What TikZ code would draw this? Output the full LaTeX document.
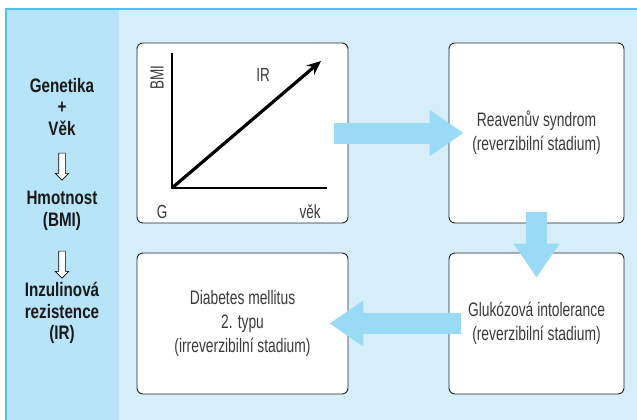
\documentclass[tikz,border=0pt]{standalone}
\usepackage{fontspec}
\setmainfont[FakeStretch=0.71]{Liberation Sans}
\newfontfamily\sidefont[FakeStretch=0.78]{Liberation Sans}
\usepackage{tikz}
\usetikzlibrary{arrows.meta,shapes.arrows}

\definecolor{sidefill}{HTML}{B8E4F8}
\definecolor{panelfill}{HTML}{D6EDFA}
\definecolor{framecyan}{HTML}{4FC3EF}
\definecolor{flowblue}{HTML}{99DAF5}
\definecolor{textgrey}{HTML}{3A3A3A}

\tikzset{
  stagebox/.style={draw=black!85, line width=0.9pt, rounded corners=6pt, fill=white,
    align=center, text=textgrey, font=\fontsize{19.5}{24}\selectfont, inner sep=0pt},
  sidetext/.style={align=center, font=\sidefont\bfseries\fontsize{19.5}{21.5}\selectfont, text=black!90},
  flow/.style={draw=flowblue, line width=21pt, -{Triangle[length=34pt,width=44pt]}},
  hollowdown/.style={single arrow, draw=black, fill=white, line width=0.6pt, rotate=-90,
    minimum height=27pt, single arrow head extend=3.5pt, inner sep=3pt},
  chartlabel/.style={text=textgrey, font=\fontsize{19}{21}\selectfont}
}

\begin{document}
\begin{tikzpicture}[x=1pt,y=-1pt]
  \useasboundingbox (0,0) rectangle (637,420);
  \fill[panelfill] (6,9) rectangle (637,420);
  \fill[sidefill] (6,9) rectangle (119,420);
  \draw[framecyan, line width=2pt] (6,420) -- (6,9) -- (637,9);

  \node[sidetext] (genetika) at (62,107) {Genetika\\+\\Věk};
  \node[hollowdown] (down1) at (62,165) {};
  \node[sidetext] (hmotnost) at (62,211) {Hmotnost\\(BMI)};
  \node[hollowdown] (down2) at (62,263) {};
  \node[sidetext] (inzulin) at (62,313) {Inzulinová\\rezistence\\(IR)};

  \node[stagebox, minimum width=211pt, minimum height=180pt] (chart) at (242.5,133) {};
  \node[stagebox, minimum width=175pt, minimum height=180pt] (reaven) at (536.5,133)
    {Reavenův syndrom\\(reverzibilní stadium)};
  \node[stagebox, minimum width=175pt, minimum height=141pt] (gluk) at (536.5,323.5)
    {Glukózová intolerance\\(reverzibilní stadium)};
  \node[stagebox, minimum width=211pt, minimum height=141pt] (diab) at (242.5,323.5)
    {Diabetes mellitus\\2. typu\\(irreverzibilní stadium)};

  \coordinate (origin) at (172,188);
  \coordinate (ytop) at (172,53);
  \coordinate (xend) at (327,188);
  \coordinate (irend) at (321,61);
  \draw[line width=1.2pt] (ytop) -- (origin) -- (xend);
  \draw[line width=3.2pt, -{Stealth[length=14pt,width=12pt]}] (origin) -- (irend);
  \node[chartlabel, rotate=90] (bmi) at (157,78) {BMI};
  \node[chartlabel] (ir) at (263,75) {IR};
  \node[chartlabel] (g) at (162,212) {G};
  \node[chartlabel] (vek) at (310,212) {věk};

  \draw[flow, shorten <=-14pt, shorten >=-15pt] (chart.east) -- (reaven.west);
  \draw[flow, shorten <=-11pt, shorten >=-25pt] (reaven.south) -- (gluk.north);
  \draw[flow, shorten <=-12pt, shorten >=-19pt] (gluk.west) -- (diab.east);
\end{tikzpicture}
\end{document}
